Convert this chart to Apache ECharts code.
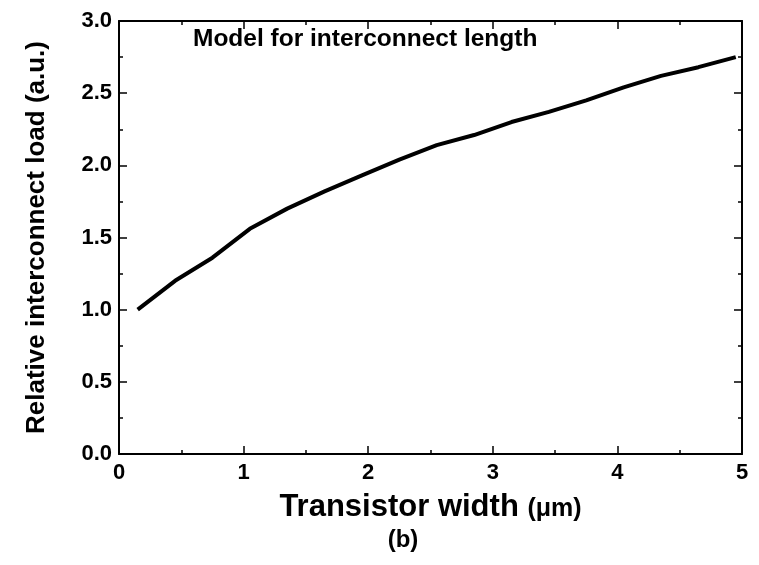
<!DOCTYPE html>
<html>
<head>
<meta charset="utf-8">
<script src="https://cdn.jsdelivr.net/npm/echarts@6/dist/echarts.min.js"></script>
<style>
  html, body { margin: 0; padding: 0; background: #fff; }
  #chart { width: 759px; height: 565px; }
</style>
</head>
<body>
<div id="chart"></div>
<script>
// transistor width (um) and relative interconnect load (a.u.)
var widths = [0.15, 0.45, 0.75, 1.05, 1.35, 1.65, 1.95, 2.25, 2.55, 2.85, 3.15, 3.45, 3.75, 4.05, 4.35, 4.65, 4.95];
var loads  = [1.00, 1.20, 1.36, 1.56, 1.70, 1.82, 1.93, 2.04, 2.14, 2.21, 2.30, 2.37, 2.45, 2.54, 2.62, 2.68, 2.75];

var xTicks = ['0', '1', '2', '3', '4', '5'];
var yTicks = ['0.0', '0.5', '1.0', '1.5', '2.0', '2.5', '3.0'];

var font = 'Liberation Sans, Arial, sans-serif';
var chart = echarts.init(document.getElementById('chart'));

function axisBase(show){
	return {
		type: 'value',
		axisLine: { show: true, onZero: false, lineStyle: { color: '#000', width: 2 } },
		axisTick: { show: true, inside: true, length: 8, lineStyle: { color: '#000', width: 1.5 } },
		minorTick: { show: true, splitNumber: 2, length: 4, lineStyle: { color: '#000', width: 1.5 } },
		splitLine: { show: false },
		minorSplitLine: { show: false },
		axisLabel: { show: show }
	};
}

var xBottom = axisBase(true);
xBottom.min = 0; xBottom.max = 5; xBottom.interval = 1;
xBottom.position = 'bottom';
xBottom.axisLabel = {
	show: true, color: '#000', fontFamily: font, fontWeight: 'bold', fontSize: 22, margin: 8,
	formatter: function(v){ return xTicks[Math.round(v)]; }
};
xBottom.name = '{a|Transistor width }{b|(\u03bcm)}';
xBottom.nameLocation = 'middle';
xBottom.nameGap = 38;
xBottom.nameTextStyle = {
	rich: {
		a: { fontFamily: font, fontWeight: 'bold', fontSize: 31, color: '#000' },
		b: { fontFamily: font, fontWeight: 'bold', fontSize: 25, color: '#000', padding: [4, 0, 0, 0] }
	}
};

var xTop = axisBase(false);
xTop.min = 0; xTop.max = 5; xTop.interval = 1;
xTop.position = 'top';

var yLeft = axisBase(true);
yLeft.min = 0; yLeft.max = 3; yLeft.interval = 0.5;
yLeft.position = 'left';
yLeft.axisLabel = {
	show: true, color: '#000', fontFamily: font, fontWeight: 'bold', fontSize: 22, margin: 7,
	formatter: function(v){ return yTicks[Math.round(v * 2)]; }
};
yLeft.name = 'Relative interconnect load (a.u.)';
yLeft.nameLocation = 'middle';
yLeft.nameGap = 69;
yLeft.nameTextStyle = { fontFamily: font, fontWeight: 'bold', fontSize: 26, color: '#000' };

var yRight = axisBase(false);
yRight.min = 0; yRight.max = 3; yRight.interval = 0.5;
yRight.position = 'right';

var option = {
	backgroundColor: '#fff',
	animation: false,
	grid: { left: 119, right: 17, top: 21, bottom: 111 },
	xAxis: [xBottom, xTop],
	yAxis: [yLeft, yRight],
	graphic: [
		{
			type: 'text', left: 193, top: 27,
			style: { text: 'Model for interconnect length', fontFamily: font, fontWeight: 'bold', fontSize: 24.5, fill: '#000' }
		},
		{
			type: 'text', x: 403, y: 540,
			style: { text: '(b)', fontFamily: font, fontWeight: 'bold', fontSize: 24, fill: '#000', align: 'center', verticalAlign: 'middle' }
		}
	],
	series: [
		{
			type: 'line',
			data: widths.map(function(w, i){ return [w, loads[i]]; }),
			showSymbol: false,
			lineStyle: { color: '#000', width: 4 }
		}
	]
};
chart.setOption(option);
</script>
</body>
</html>
